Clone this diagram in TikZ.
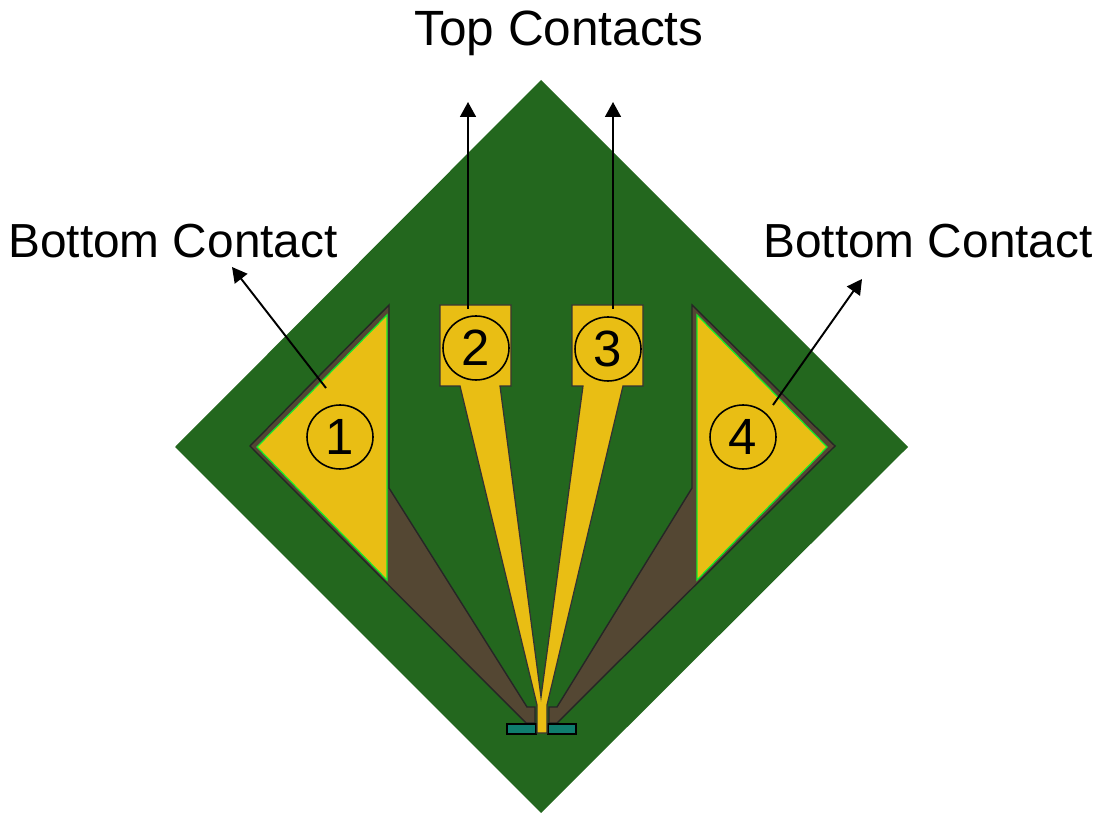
\documentclass[tikz,border=0pt]{standalone}
\usepackage{fontspec}
\setmainfont{Liberation Sans}
\usetikzlibrary{arrows.meta,shapes.geometric}
\definecolor{boardgreen}{RGB}{35,103,30}
\definecolor{etchbrown}{RGB}{84,71,51}
\definecolor{contactgold}{RGB}{233,190,20}
\definecolor{edgegreen}{RGB}{20,235,40}
\definecolor{padteal}{RGB}{15,125,110}
\tikzset{
	caption/.style={font=\fontsize{27.2}{30}\selectfont,inner sep=0pt},
	numbered/.style={draw,line width=0.9pt,ellipse,minimum width=1.32cm,minimum height=1.28cm,inner sep=0pt,font=\fontsize{29}{30}\selectfont},
	lead/.style={-{Triangle[length=8.5pt,width=9pt]},line width=1.1pt}
}

\begin{document}
\begin{tikzpicture}[x=0.02cm,y=-0.02cm]
	\useasboundingbox (0,0) rectangle (1101,813);
	% the board
	\fill[boardgreen] (541,80) -- (908,447) -- (541,813) -- (175,447) -- cycle;
	% etched areas - must be drawn before the contacts!
	\filldraw[fill=etchbrown,draw=black!85,line width=0.8pt] (389,305) -- (250,446) -- (526,723) -- (535,723) -- (535,707) -- (527,707) -- (389,488) -- cycle;
	\filldraw[fill=etchbrown,draw=black!85,line width=0.8pt] (692,305) -- (835,446) -- (557,723) -- (549,723) -- (549,707) -- (557,707) -- (692,488) -- cycle;
	% the teal pads at the tip
	\filldraw[fill=padteal,draw=black,line width=1pt] (507,724) rectangle (536,734);
	\filldraw[fill=padteal,draw=black,line width=1pt] (548,724) rectangle (576,734);
	% bottom contacts
	\filldraw[fill=contactgold,draw=edgegreen,line width=0.7pt] (387,315) -- (257,447) -- (387,580) -- cycle;
	\filldraw[fill=contactgold,draw=edgegreen,line width=0.7pt] (697,315) -- (827,447) -- (697,580) -- cycle;
	% top contacts and their fingers
	\filldraw[fill=contactgold,draw=black!80,line width=0.7pt] (440,305) -- (511,305) -- (511,386) -- (500,386) -- (541,697) -- (583,386) -- (572,386) -- (572,305) -- (643,305) -- (643,386) -- (623,386) -- (547,705) -- (547,733) -- (537,733) -- (537,705) -- (460,386) -- (440,386) -- cycle;
	% numbers
	\foreach \n/\x/\y in {1/340/437, 2/476/348, 3/608/349, 4/743/437} {
		\node[numbered] (contact\n) at (\x,\y) {\n};
	}
	% captions
	\node[caption,font=\fontsize{28.2}{30}\selectfont] (toplabel) at (559,33) {Top Contacts};
	\node[caption] (leftlabel) at (173,241) {Bottom Contact};
	\node[caption] (rightlabel) at (928,241) {Bottom Contact};
	% arrow ends
	\coordinate (leftfrom) at (326,388);
	\coordinate (leftto) at (232,267);
	\coordinate (pad2from) at (468,309);
	\coordinate (pad2to) at (468,102);
	\coordinate (pad3from) at (613,309);
	\coordinate (pad3to) at (613,102);
	\coordinate (rightfrom) at (773,405);
	\coordinate (rightto) at (862,279);
	\draw[lead] (leftfrom) -- (leftto);
	\draw[lead] (pad2from) -- (pad2to);
	\draw[lead] (pad3from) -- (pad3to);
	\draw[lead] (rightfrom) -- (rightto);
\end{tikzpicture}
\end{document}
